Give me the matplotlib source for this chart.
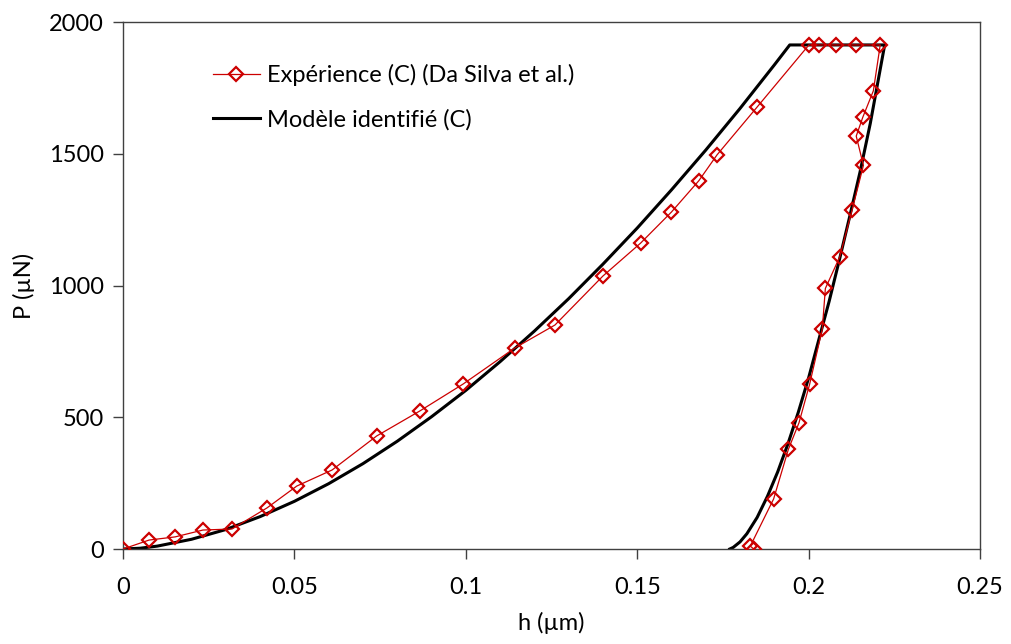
import numpy as np
import matplotlib.pyplot as plt

plt.rcParams['font.family'] = ['Lato', 'DejaVu Sans']

# Experimental indentation curve (loading, hold, unloading)
h_exp = [0.0, 0.0076, 0.0152, 0.0233, 0.0318, 0.0420, 0.0507, 0.0610, 0.0740,
         0.0866, 0.0992, 0.1143, 0.1260, 0.1400, 0.1510, 0.1600, 0.1680, 0.1733,
         0.1849, 0.2001, 0.2030, 0.2081, 0.2139, 0.2209,
         0.2189, 0.2158, 0.2139, 0.2160, 0.2127, 0.2091, 0.2049, 0.2040, 0.2003,
         0.1972, 0.1941, 0.1898, 0.1830, 0.1840]
P_exp = [0, 34, 46, 72, 76, 156, 239, 300, 429,
         524, 626, 763, 850, 1036, 1161, 1279, 1398, 1496,
         1676, 1913, 1913, 1913, 1913, 1913,
         1739, 1638, 1567, 1456, 1287, 1109, 989, 835, 625,
         479, 378, 190, 11, 0]

# Identified model curve
h_mod = [0.0, 0.005, 0.01, 0.02, 0.03, 0.04, 0.05, 0.06, 0.07, 0.08, 0.09, 0.10,
         0.11, 0.12, 0.13, 0.14, 0.15, 0.16, 0.17, 0.18, 0.19, 0.1945,
         0.2222, 0.218, 0.215, 0.212, 0.209, 0.206, 0.203, 0.200, 0.197,
         0.194, 0.191, 0.188, 0.185, 0.182, 0.180, 0.178, 0.177]
P_mod = [0, 3, 11, 37, 74, 123, 181, 248, 324, 409, 502, 602,
         711, 827, 950, 1081, 1218, 1363, 1514, 1672, 1837, 1913,
         1913, 1615, 1430, 1262, 1098, 940, 795, 649, 519,
         400, 293, 200, 120, 58, 27, 6, 0]

xticks = [0, 0.05, 0.1, 0.15, 0.2, 0.25]
xtick_labels = ['0', '0.05', '0.1', '0.15', '0.2', '0.25']
yticks = [0, 500, 1000, 1500, 2000]

fig = plt.figure(figsize=(10.11, 6.44), dpi=100)
ax = fig.add_axes([0.1217, 0.1475, 0.8476, 0.8183])

ax.plot(h_mod, P_mod, color='black', lw=2.2, label='Modèle identifié (C)', zorder=2)
ax.plot(h_exp, P_exp, color='#CC0000', lw=0.9, marker='D', ms=7.5,
        mfc='none', mec='#CC0000', mew=1.6,
        label='Expérience (C) (Da Silva et al.)', zorder=3)

ax.set_xlim(0, 0.25)
ax.set_ylim(0, 2000)
ax.set_xticks(xticks)
ax.set_xticklabels(xtick_labels)
ax.set_yticks(yticks)

for s in ax.spines.values():
    s.set_color('#404040')
    s.set_linewidth(1.0)
ax.tick_params(direction='out', length=7, width=1, color='#404040',
               labelsize=17, pad=7)
ax.tick_params(axis='x', pad=13)

ax.set_xlabel('h (µm)', fontsize=17, labelpad=10)
ax.set_ylabel('P (µN)', fontsize=17, labelpad=10)

handles, labels = ax.get_legend_handles_labels()
ax.legend(handles[::-1], labels[::-1], loc='upper left',
          bbox_to_anchor=(0.08, 0.96), frameon=False, fontsize=17,
          handlelength=2.0, handletextpad=0.3, labelspacing=0.95)

fig.savefig('out.png', dpi=100)
